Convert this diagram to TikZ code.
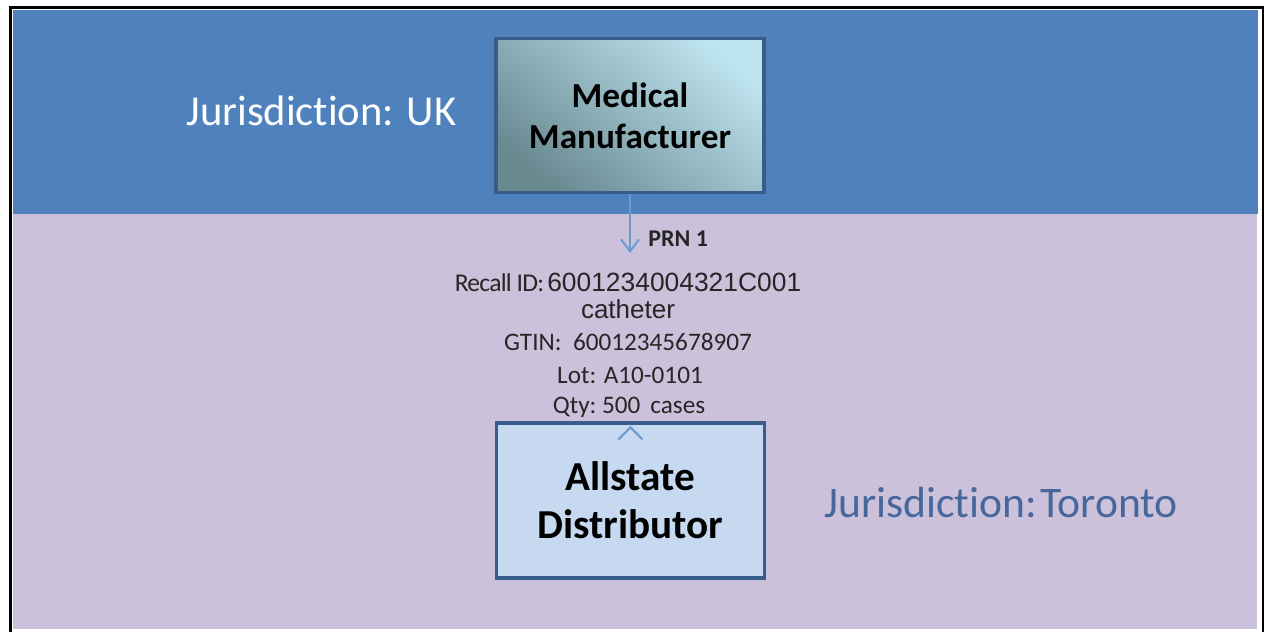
\documentclass[tikz,border=0pt]{standalone}
\usepackage{fontspec}
\setmainfont[Ligatures={NoCommon}]{Carlito}
\newfontfamily\arialf{Liberation Sans}
\usetikzlibrary{arrows.meta}
\definecolor{bandblue}{HTML}{4F81BD}
\definecolor{lav}{HTML}{CCC1DA}
\definecolor{boxedge}{HTML}{385D8A}
\definecolor{gradlight}{HTML}{BDE3EE}
\definecolor{graddark}{HTML}{6A8A92}
\definecolor{distfill}{HTML}{C6D9F1}
\definecolor{arrowblue}{HTML}{6A9AD0}
\definecolor{torblue}{HTML}{46679B}
\definecolor{txtgray}{HTML}{262626}
\tikzset{
  entitybox/.style={draw=boxedge, line width=1.6pt, inner sep=0pt, align=center},
  infoline/.style={inner sep=0pt, anchor=base, text=txtgray},
  flowarrow/.style={draw=arrowblue, line width=1pt, -{Straight Barb[length=6pt,width=9pt]}},
}
\begin{document}
\begin{tikzpicture}[x=0.5pt,y=-0.5pt]
\useasboundingbox (0,0) rectangle (1264,632);
% outer frame
\draw[line width=1.5pt] (10,640) -- (10,7.5) -- (1263,7.5) -- (1263,640);
% bands
\fill[bandblue] (13,10) rectangle (1258,214);
\fill[lav] (13,214) rectangle (1257,629);
% boxes
\node[entitybox, minimum width=134pt, minimum height=77pt,
      top color=gradlight, bottom color=graddark, shading angle=-40,
      font=\fontsize{17.6}{20.5}\selectfont\bfseries, text=black]
  (mm) at (630,115.5) {Medical\\Manufacturer};
\node[entitybox, fill=distfill, minimum width=134pt, minimum height=77.5pt,
      font=\fontsize{20.6}{24}\selectfont\bfseries, text=black]
  (dist) at (630.5,500.5) {Allstate\\Distributor};
% jurisdiction labels
\node[inner sep=0pt, anchor=base, text=white, font=\fontsize{21.3}{24}\selectfont]
  (juk) at (321.5,125) {Jurisdiction: UK};
\node[inner sep=0pt, anchor=base, text=torblue, font=\fontsize{21.8}{26}\selectfont]
  (jto) at (1001,517) {Jurisdiction:\hspace{0.08em}Toronto};
% info lines
\coordinate (arrend) at (630,253);
\draw[flowarrow] (mm.south -| arrend) -- (arrend);
\node[infoline, anchor=base west, font=\fontsize{12}{14}\selectfont\bfseries]
  (prn) at (648,246) {PRN 1};
\node[infoline, font=\fontsize{12.8}{14}\selectfont]
  (recall) at (628,291) {{\addfontfeature{LetterSpace=-3}Recall ID:}\hspace{1.5pt}{\arialf\fontsize{13.2}{14}\selectfont 6001234004321C001}};
\node[infoline, font=\arialf\fontsize{13}{14}\selectfont]
  (cath) at (628,318) {catheter};
\node[infoline, font=\fontsize{12.6}{14}\selectfont]
  (gtin) at (628,350) {GTIN:\ \ 60012345678907};
\node[infoline, font=\fontsize{12.6}{14}\selectfont]
  (lot) at (630,383) {Lot: A10-0101};
\node[infoline, font=\fontsize{12.6}{14}\selectfont]
  (qty) at (629,413) {Qty:\ 500\ \,cases};
% arrowhead at distributor top
\draw[arrowblue, line width=1pt] ([xshift=-6pt,yshift=-9pt]dist.north) -- ([yshift=-3pt]dist.north) -- ([xshift=6pt,yshift=-9pt]dist.north);
\end{tikzpicture}
\end{document}
